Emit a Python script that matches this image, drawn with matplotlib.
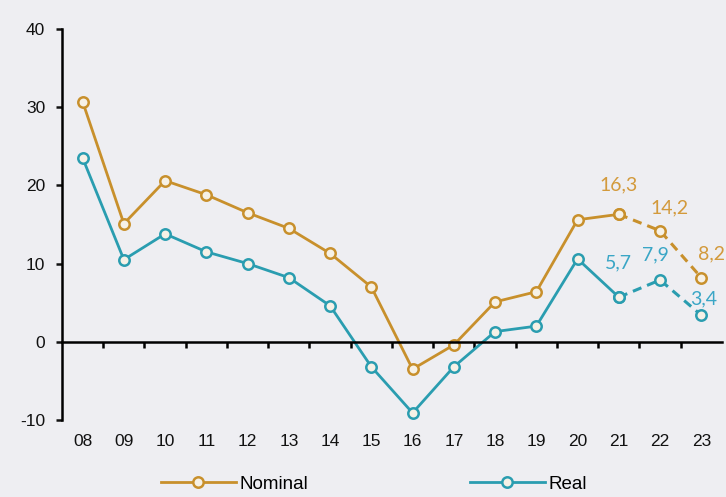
import numpy as np
import matplotlib.pyplot as plt
from matplotlib.lines import Line2D

plt.rcParams["axes.unicode_minus"] = False

# Data
years = ["08", "09", "10", "11", "12", "13", "14", "15",
         "16", "17", "18", "19", "20", "21", "22", "23"]
nominal = [30.7, 15.1, 20.6, 18.8, 16.5, 14.5, 11.3, 7.0,
           -3.5, -0.4, 5.1, 6.4, 15.6, 16.3, 14.2, 8.2]
real = [23.5, 10.5, 13.8, 11.5, 10.0, 8.2, 4.6, -3.2,
        -9.1, -3.2, 1.3, 2.0, 10.6, 5.7, 7.9, 3.4]
nominal_labels = ["16,3", "14,2", "8,2"]
real_labels = ["5,7", "7,9", "3,4"]

c_nom = "#C8902C"
c_real = "#2A9DB0"
c_nom_txt = "#D39A3C"
c_real_txt = "#3AA6C6"
bg = "#EEEEF2"

x = np.arange(len(years))
split = 13  # forecast (dashed) from 21 onward

fig = plt.figure(figsize=(7.26, 4.97), dpi=100, facecolor=bg)
ax = fig.add_axes([0.0854, 0.155, 0.909, 0.7867], facecolor=bg)

mk = dict(marker="o", markersize=7.5, markerfacecolor="#F6F1E6", markeredgewidth=1.8)
for vals, col in [(nominal, c_nom), (real, c_real)]:
    ax.plot(x[:split + 1], vals[:split + 1], color=col, lw=2, markeredgecolor=col, **mk)
    ax.plot(x[split:], vals[split:], color=col, lw=2.2, ls=(0, (3, 2)),
            markeredgecolor=col, **mk)

# value labels for the last three years
lab_font = dict(family="Lato", fontsize=14)
nom_off = [(0, 21.5), (7, 16.5), (7, 17)]
real_off = [(0, 24.5), (-3, 18), (2, 11.5)]
for i, (t, off) in enumerate(zip(nominal_labels, nom_off)):
    ax.annotate(t, (x[split + i], nominal[split + i]), xytext=off,
                textcoords="offset points", ha="center", va="center",
                color=c_nom_txt, **lab_font)
for i, (t, off) in enumerate(zip(real_labels, real_off)):
    ax.annotate(t, (x[split + i], real[split + i]), xytext=off,
                textcoords="offset points", ha="center", va="center",
                color=c_real_txt, **lab_font)

ax.set_xlim(-0.5, len(years) - 0.5)
ax.set_ylim(-10, 40)
ax.set_yticks([-10, 0, 10, 20, 30, 40])
ax.tick_params(axis="y", direction="out", length=4, width=1.8, labelsize=12.5,
               pad=8, colors="#111111")
for s in ["top", "right"]:
    ax.spines[s].set_visible(False)
ax.spines["left"].set_linewidth(1.8)
ax.spines["bottom"].set_position(("data", 0))
ax.spines["bottom"].set_linewidth(1.8)
ax.set_xticks(np.arange(0.5, len(years) - 0.5, 1))
ax.set_xticklabels([])
ax.tick_params(axis="x", direction="out", length=4, width=1.8)
for lab in ax.get_yticklabels():
    lab.set_family("Liberation Sans")

for xi, yr in zip(x, years):
    ax.text(xi, -0.035, yr, transform=ax.get_xaxis_transform(), ha="center",
            va="top", fontsize=12.5, family="Liberation Sans", color="#111111")

h1 = Line2D([], [], color=c_nom, lw=2, markeredgecolor=c_nom, **mk)
h2 = Line2D([], [], color=c_real, lw=2, markeredgecolor=c_real, **mk)
leg = fig.legend([h1, h2], ["Nominal", "Real"], loc="center",
                 bbox_to_anchor=(0.515, 0.026), ncol=2, frameon=False,
                 handlelength=4.0, columnspacing=8.6, handletextpad=0.2,
                 prop={"family": "Liberation Sans", "size": 13.5})

fig.savefig("out.png", dpi=100, facecolor=bg)
